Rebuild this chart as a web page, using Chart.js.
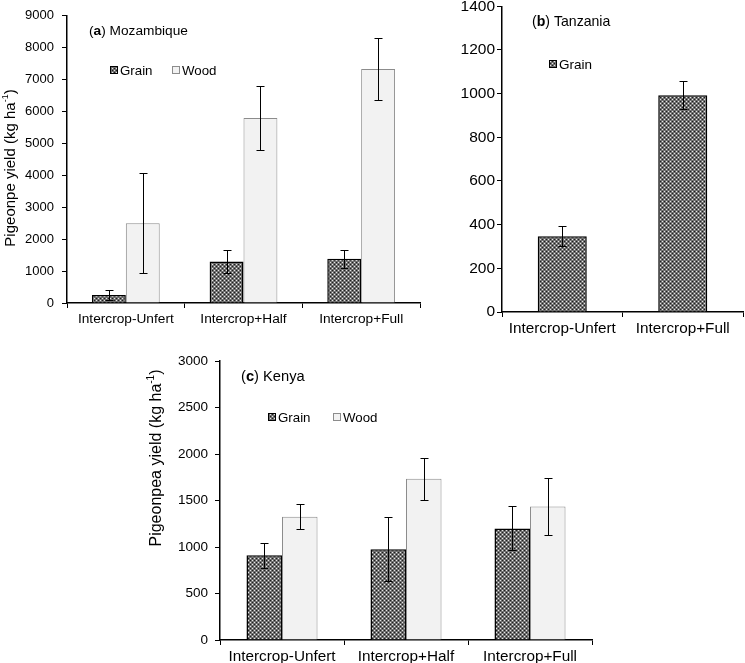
<!DOCTYPE html>
<html>
<head>
<meta charset="utf-8">
<script src="https://cdn.jsdelivr.net/npm/chart.js@4.4.1/dist/chart.umd.min.js"></script>
<style>
  html, body { margin: 0; padding: 0; background: #fff; }
  body { width: 745px; height: 663px; position: relative; overflow: hidden; }
  canvas { position: absolute; }
</style>
</head>
<body>
<canvas id="chartA" width="430" height="340" style="left:0;top:0"></canvas>
<canvas id="chartB" width="305" height="345" style="left:440px;top:-5px"></canvas>
<canvas id="chartC" width="465" height="323" style="left:140px;top:340px"></canvas>
<script>
// (a) Mozambique
const mozCategories = ['Intercrop-Unfert', 'Intercrop+Half', 'Intercrop+Full'];
const mozGrain = [250, 1300, 1390];
const mozGrainErr = [150, 360, 280];
const mozWood = [2500, 5800, 7330];
const mozWoodErr = [1570, 1010, 960];

// (b) Tanzania
const tzCategories = ['Intercrop-Unfert', 'Intercrop+Full'];
const tzGrain = [347, 993];
const tzGrainErr = [46, 64];

// (c) Kenya
const keCategories = ['Intercrop-Unfert', 'Intercrop+Half', 'Intercrop+Full'];
const keGrain = [910, 975, 1200];
const keGrainErr = [135, 345, 236];
const keWood = [1325, 1735, 1435];
const keWoodErr = [135, 227, 305];

const FONT = 'Liberation Sans, Arial, sans-serif';

// dotted fill used for the grain bars
function makePattern() {
  const c = document.createElement('canvas');
  c.width = 4; c.height = 4;
  const p = c.getContext('2d');
  p.fillStyle = '#707070'; p.fillRect(0, 0, 4, 4);
  p.fillStyle = '#e6e6e6'; p.fillRect(0, 0, 1, 1); p.fillRect(2, 2, 1, 1);
  p.fillStyle = '#1e1e1e'; p.fillRect(2, 0, 1, 1); p.fillRect(0, 2, 1, 1);
  return p.createPattern(c, 'repeat');
}
const grainFill = makePattern();
const woodFill = '#f2f2f2';

// error bars + in-plot title, legend and y title
const panelDecor = {
  id: 'panelDecor',
  afterDatasetsDraw(chart, args, opts) {
    const ctx = chart.ctx;
    const y = chart.scales.y;
    ctx.save();
    ctx.strokeStyle = '#000';
    ctx.lineWidth = 1;
    chart.data.datasets.forEach((ds, di) => {
      const meta = chart.getDatasetMeta(di);
      meta.data.forEach((bar, i) => {
        const e = ds.errors[i];
        const top = Math.round(y.getPixelForValue(ds.data[i] + e)) + 0.5;
        const bot = Math.round(y.getPixelForValue(ds.data[i] - e)) + 0.5;
        const x = Math.round(bar.x) + 0.5;
        ctx.beginPath();
        ctx.moveTo(x, top); ctx.lineTo(x, bot);
        ctx.moveTo(x - 4, top); ctx.lineTo(x + 4, top);
        ctx.moveTo(x - 4, bot); ctx.lineTo(x + 4, bot);
        ctx.stroke();
      });
    });
    ctx.restore();
  },
  afterDraw(chart, args, opts) {
    const ctx = chart.ctx;
    ctx.save();
    ctx.fillStyle = '#000';
    ctx.textBaseline = 'middle';
    // panel label, letter in bold
    const t = opts.title;
    let x = t.x;
    ctx.font = t.size + 'px ' + FONT;
    ctx.fillText('(', x, t.y); x += ctx.measureText('(').width;
    ctx.font = 'bold ' + t.size + 'px ' + FONT;
    ctx.fillText(t.letter, x, t.y); x += ctx.measureText(t.letter).width;
    ctx.font = t.size + 'px ' + FONT;
    ctx.fillText(') ' + t.text, x, t.y);

    // legend
    ctx.font = opts.legendSize + 'px ' + FONT;
    opts.legend.forEach(item => {
      ctx.fillStyle = item.fill;
      ctx.fillRect(item.x, item.y - 4, 8, 8);
      ctx.strokeStyle = item.border;
      ctx.lineWidth = 1;
      ctx.strokeRect(item.x + 0.5, item.y - 3.5, 7, 7);
      ctx.fillStyle = '#000';
      ctx.fillText(item.label, item.x + 10, item.y + 1);
    });

    // y axis title with superscript
    const yt = opts.yTitle;
    if (yt) {
      ctx.translate(yt.x, yt.y);
      ctx.rotate(-Math.PI / 2);
      const main = yt.size + 'px ' + FONT;
      const sup = Math.round(yt.size * 0.62) + 'px ' + FONT;
      const parts = [[yt.text, main, 0], ['-1', sup, -yt.size * 0.35], [')', main, 0]];
      let w = 0;
      parts.forEach(p => { ctx.font = p[1]; w += ctx.measureText(p[0]).width; });
      let px = -w / 2;
      parts.forEach(p => {
        ctx.font = p[1];
        ctx.fillText(p[0], px, p[2]);
        px += ctx.measureText(p[0]).width;
      });
    }
    ctx.restore();
  }
};

function makePanel(id, cfg) {
  new Chart(document.getElementById(id), {
    type: 'bar',
    data: { labels: cfg.labels, datasets: cfg.datasets },
    options: {
      responsive: false,
      animation: false,
      layout: { padding: cfg.padding },
      plugins: {
        legend: { display: false },
        tooltip: { enabled: false },
        panelDecor: cfg.decor
      },
      scales: {
        x: {
          grid: { display: true, drawOnChartArea: false, drawTicks: true, tickLength: 5, color: '#000', lineWidth: 1 },
          border: { display: true, color: '#000', width: 1.5 },
          ticks: { color: '#000', font: { family: FONT, size: cfg.xFont }, padding: 3, maxRotation: 0 },
          afterFit(s) { s.height = cfg.xHeight; }
        },
        y: {
          min: 0, max: cfg.yMax,
          grid: { display: true, drawOnChartArea: false, drawTicks: true, tickLength: 5, color: '#000', lineWidth: 1 },
          border: { display: true, color: '#000', width: 1.5 },
          ticks: {
            stepSize: cfg.yStep, color: '#000', font: { family: FONT, size: cfg.yFont }, padding: cfg.yPad,
            callback: v => String(v)
          },
          afterFit(s) { s.width = cfg.yWidth; }
        }
      }
    },
    plugins: [panelDecor]
  });
}

function grainSet(data, errors, pct) {
  return { label: 'Grain', data: data, errors: errors, backgroundColor: grainFill,
    borderColor: '#000', borderWidth: 1.5, categoryPercentage: pct, barPercentage: 1 };
}
function woodSet(data, errors, pct) {
  return { label: 'Wood', data: data, errors: errors, backgroundColor: woodFill,
    borderColor: '#8c8c8c', borderWidth: 1, categoryPercentage: pct, barPercentage: 1 };
}

makePanel('chartA', {
  labels: mozCategories,
  datasets: [grainSet(mozGrain, mozGrainErr, 0.576), woodSet(mozWood, mozWoodErr, 0.576)],
  padding: { left: 0, top: 15, right: 10, bottom: 0 },
  xHeight: 37, yWidth: 67, yMax: 9000, yStep: 1000, xFont: 13.7, yFont: 13, yPad: 8,
  decor: {
    title: { x: 89, y: 31, size: 13.7, letter: 'a', text: 'Mozambique' },
    legendSize: 13.3,
    legend: [
      { x: 110, y: 70, fill: grainFill, border: '#000', label: 'Grain' },
      { x: 172, y: 70, fill: woodFill, border: '#8c8c8c', label: 'Wood' }
    ],
    yTitle: { x: 11, y: 168, size: 15, text: 'Pigeonpe yield (kg ha' }
  }
});

makePanel('chartB', {
  labels: tzCategories,
  datasets: [grainSet(tzGrain, tzGrainErr, 0.407)],
  padding: { left: 0, top: 10, right: 2, bottom: 0 },
  xHeight: 28, yWidth: 62, yMax: 1400, yStep: 200, xFont: 15.3, yFont: 15.5, yPad: 2,
  decor: {
    title: { x: 92, y: 27, size: 14.1, letter: 'b', text: 'Tanzania' },
    legendSize: 13.5,
    legend: [
      { x: 109, y: 69, fill: grainFill, border: '#000', label: 'Grain' }
    ]
  }
});

makePanel('chartC', {
  labels: keCategories,
  datasets: [grainSet(keGrain, keGrainErr, 0.573), woodSet(keWood, keWoodErr, 0.573)],
  padding: { left: 0, top: 21, right: 13, bottom: 0 },
  xHeight: 23, yWidth: 80, yMax: 3000, yStep: 500, xFont: 15.3, yFont: 13.5, yPad: 7,
  decor: {
    title: { x: 101, y: 37, size: 14.7, letter: 'c', text: 'Kenya' },
    legendSize: 13.3,
    legend: [
      { x: 128, y: 77, fill: grainFill, border: '#000', label: 'Grain' },
      { x: 193, y: 77, fill: woodFill, border: '#8c8c8c', label: 'Wood' }
    ],
    yTitle: { x: 17, y: 118, size: 16, text: 'Pigeonpea yield (kg ha' }
  }
});
</script>
</body>
</html>
